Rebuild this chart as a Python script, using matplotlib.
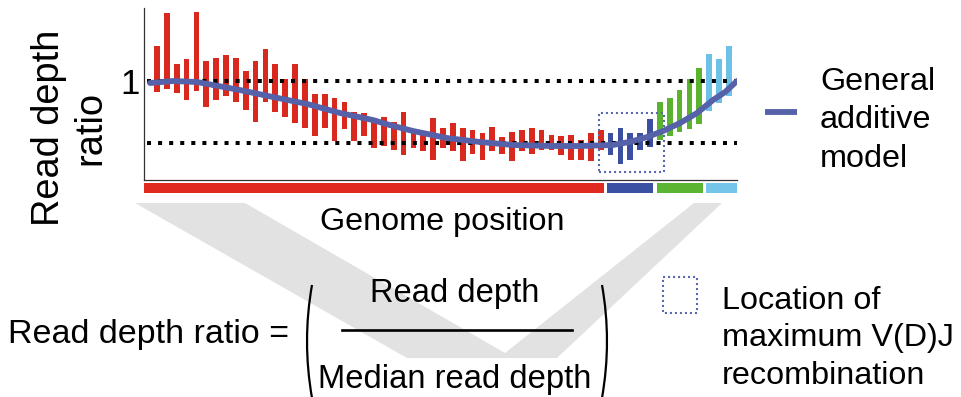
import matplotlib
matplotlib.use("Agg")
import matplotlib.pyplot as plt
import numpy as np
from matplotlib.patches import Polygon, Rectangle, PathPatch
from matplotlib.path import Path

plt.rcParams['font.family'] = ['Liberation Sans', 'DejaVu Sans']

# ---------------- data ----------------
group_names = ["other", "max V(D)J", "rise", "high"]
group_sizes = [46, 5, 5, 3]
group_colors = ["#d9281e", "#3a4fa0", "#5bb22f", "#6ec1e6"]
segment_colors = ["#e0291f", "#3a50a2", "#5cb532", "#74c5e9"]

bar_high = [1.282, 1.548, 1.137, 1.177, 1.556, 1.161, 1.185, 1.210, 1.185, 1.081,
            1.161, 1.258, 1.137, 1.016, 1.137, 1.016, 0.895, 0.895, 0.863, 0.831,
            0.750, 0.742, 0.702, 0.710, 0.669, 0.750, 0.581, 0.565, 0.702, 0.621,
            0.661, 0.621, 0.605, 0.581, 0.629, 0.548, 0.589, 0.605, 0.621, 0.605,
            0.565, 0.556, 0.565, 0.524, 0.581, 0.605,
            0.581, 0.621, 0.581, 0.581, 0.694,
            0.831, 0.863, 0.927, 1.016, 1.105,
            1.218, 1.177, 1.282]
bar_low = [0.911, 0.935, 0.903, 0.847, 0.919, 0.790, 0.847, 0.879, 0.831, 0.766,
           0.669, 0.831, 0.750, 0.710, 0.661, 0.621, 0.556, 0.621, 0.516, 0.613,
           0.516, 0.556, 0.460, 0.476, 0.444, 0.403, 0.460, 0.435, 0.363, 0.460,
           0.435, 0.355, 0.411, 0.363, 0.435, 0.411, 0.355, 0.435, 0.411, 0.444,
           0.444, 0.403, 0.363, 0.363, 0.355, 0.444,
           0.403, 0.331, 0.363, 0.444, 0.468,
           0.524, 0.556, 0.589, 0.613, 0.653,
           0.758, 0.823, 0.879]

gam_x = [-0.71, 1.62, 4.06, 8.42, 11.76, 15.21, 18.56, 21.91, 23.6, 25.96, 29.41,
         32.76, 36.11, 39.86, 42.90, 46.25, 48.0, 49.70, 51.32, 53.04, 54.77,
         56.39, 57.61, 58.82]
gam_y = [0.984, 1.0, 0.992, 0.927, 0.871, 0.815, 0.742, 0.685, 0.645, 0.597, 0.540,
         0.508, 0.484, 0.476, 0.476, 0.484, 0.510, 0.548, 0.597, 0.661, 0.742,
         0.847, 0.911, 1.0]

ref_lines = [1.0, 0.5]
vdj_box = (44.8, 51.4, 0.266, 0.742)   # x0, x1, y0, y1

# ---------------- figure ----------------
W, H = 961, 397
fig = plt.figure(figsize=(W / 100, H / 100), dpi=100)

def px2fig(x0, y0, x1, y1):
    return [x0 / W, 1 - y1 / H, (x1 - x0) / W, (y1 - y0) / H]

# overlay axes in pixel coords for decorations
ov = fig.add_axes([0, 0, 1, 1], zorder=0)
ov.set_xlim(0, W)
ov.set_ylim(H, 0)
ov.axis("off")

XL = (-1.32, 58.82)
YL = (0.2016, 1.589)

ax = fig.add_axes(px2fig(144, 8, 737, 180), zorder=2)
ax.patch.set_alpha(0)
ax.set_xlim(*XL)
ax.set_ylim(*YL)

colors = []
for c, n in zip(group_colors, group_sizes):
    colors += [c] * n
xs = np.arange(len(bar_high))
hi = np.array(bar_high)
lo = np.array(bar_low)
ax.bar(xs, hi - lo, bottom=lo, width=0.58, color=colors, zorder=2)

for r in ref_lines:
    ax.plot([XL[0] + 0.3, XL[1]], [r, r], color="black", lw=2.9,
            linestyle=(0, (1, 1.75)), dash_capstyle="butt", zorder=3)

ax.plot(gam_x, gam_y, color="#5561a8", lw=4.2, solid_capstyle="round",
        solid_joinstyle="round", zorder=4)

bx0, bx1, by0, by1 = vdj_box
ax.add_patch(Rectangle((bx0, by0), bx1 - bx0, by1 - by0, fill=False,
                       edgecolor="#5b6ab0", lw=1.5, linestyle=(0, (1, 1.4)), zorder=5))

for s in ["top", "right"]:
    ax.spines[s].set_visible(False)
for s in ["left", "bottom"]:
    ax.spines[s].set_color("#333333")
    ax.spines[s].set_linewidth(0.9)
ax.set_xticks([])
ax.set_yticks([1.0])
ax.set_yticklabels(["1"], fontsize=25)
ax.tick_params(axis="y", length=0, pad=3)

# segment bar
sb = fig.add_axes(px2fig(144, 183, 737, 193), zorder=2)
sb.set_xlim(*XL)
sb.set_ylim(0, 1)
sb.axis("off")
start = 0
for i, (n, c) in enumerate(zip(group_sizes, segment_colors)):
    left = XL[0] if i == 0 else start - 0.5 + 0.17
    right = XL[1] if i == len(group_sizes) - 1 else start + n - 0.5 - 0.17
    sb.barh(0.5, right - left, left=left, height=1.0, color=c)
    start += n

# grey V
ov.add_patch(Polygon([(135, 203), (245, 203), (505, 353), (694, 203), (722, 203),
                      (557, 358), (407, 358)], closed=True,
                     facecolor="#e2e2e2", edgecolor="none", zorder=0))

# texts
ov.text(70, 128, "Read depth\nratio", rotation=90, ha="center", va="center",
        multialignment="center", fontsize=27.4, linespacing=1.2, zorder=3)
ov.text(442, 222, "Genome position", ha="center", va="center", fontsize=23.3, zorder=3)

ov.plot([765, 797], [112, 112], color="#5561a8", lw=4.2, solid_capstyle="butt", zorder=3)
ov.text(820, 167, "General\nadditive\nmodel", ha="left", va="baseline",
        fontsize=23.3, linespacing=1.38, zorder=3)

ov.text(8, 343, "Read depth ratio =", ha="left", va="baseline", fontsize=24.5, zorder=3)
ov.text(455, 302, "Read depth", ha="center", va="baseline", fontsize=23.6, zorder=3)
ov.text(455, 388, "Median read depth", ha="center", va="baseline", fontsize=23.6, zorder=3)
ov.plot([342, 572], [330, 330], color="black", lw=1.9, zorder=3)

lp = Path([(312, 285), (302, 341), (312, 398)], [Path.MOVETO, Path.CURVE3, Path.CURVE3])
rp = Path([(602, 285), (612, 341), (602, 398)], [Path.MOVETO, Path.CURVE3, Path.CURVE3])
for p in (lp, rp):
    ov.add_patch(PathPatch(p, fill=False, edgecolor="black", lw=1.6, zorder=3))

ov.add_patch(Rectangle((663, 277), 34, 36, fill=False, edgecolor="#5b6ab0",
                       lw=1.5, linestyle=(0, (1, 1.4)), zorder=3))
ov.text(722, 384, "Location of\nmaximum V(D)J\nrecombination", ha="left", va="baseline",
        fontsize=23.3, linespacing=1.33, zorder=3)

fig.savefig("out.png", dpi=100)
